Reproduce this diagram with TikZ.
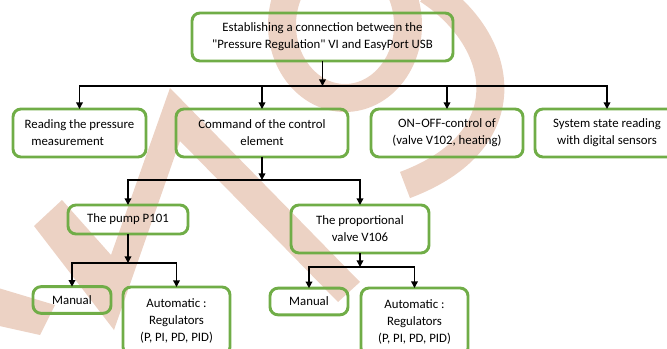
\documentclass[tikz,border=0pt]{standalone}
\usepackage{fontspec}
\setmainfont{Carlito}
\usetikzlibrary{arrows.meta,positioning}
\definecolor{boxgreen}{RGB}{112,173,71}
\definecolor{stampred}{RGB}{236,210,196}
\tikzset{
  block/.style={
    rectangle,
    rounded corners=6pt,
    draw=boxgreen,
    line width=2.2pt,
    outer sep=0pt,
    align=center,
    inner sep=2pt,
    minimum height=36pt,
    font=\fontsize{9.6pt}{12.75pt}\selectfont
  },
  smallblock/.style={
    block,
    minimum height=20pt
  },
  arrow/.style={
    -{Triangle[length=5pt,width=5pt]},
    line width=1.1pt,
    draw=black
  },
  stamp/.style={
    fill=stampred,
    draw=none
  },
  stampline/.style={
    draw=stampred,
    line width=21pt,
    line cap=butt
  }
}

\begin{document}
\begin{tikzpicture}[x=0.75pt, y=-0.75pt]
  \useasboundingbox (0,0) rectangle (667,349);
  \clip (0,0) rectangle (667,349);

  \fill[stamp] (62,200) -- (111,255) -- (170,88) -- (360,282) -- (338,302)
    -- (180,141) -- (114,330) -- (34,226) -- cycle;
  \fill[stamp] (-5,287) -- (55,305) -- (40,335) -- (-5,325) -- cycle;
  \draw[stampline] (345,25) ellipse [x radius=63, y radius=73];
  \draw[stampline] (428,-10) .. controls (505,40) and (525,140) .. (405,185);

  \node[block, minimum width=195.75pt] (link) at (322.5,37) {Establishing a connection between the\\\textquotedbl Pressure Regulation\textquotedbl{} VI and EasyPort USB};
  \node[block, minimum width=99.75pt, align=left] (reading) at (79.5,133) {Reading the pressure\\\hspace*{5pt}measurement};
  \node[block, minimum width=129pt, right=22.5pt of reading] (command) {Command of the control\\element};
  \node[block, minimum width=114pt, right=17.25pt of command] (onoff) {ON--OFF-control of\\(valve V102, heating)};
  \node[block, minimum width=108pt, right=9pt of onoff] (sensors) {System state reading\\with digital sensors};

  \node[block, minimum width=90pt, minimum height=21.75pt] (pump) at (128,219.5) {The pump P101};
  \node[block, minimum width=103.5pt] (valve) at (360,229) {The proportional\\valve V106};

  \node[smallblock, minimum width=58.5pt] (manualp) at (72,300) {Manual};
  \node[block, minimum width=80.25pt, minimum height=51pt] (autop) at (176.5,321) {Automatic :\\Regulators\\(P, PI, PD, PID)};
  \node[smallblock, minimum width=58.5pt] (manualv) at (309,301.5) {Manual};
  \node[block, minimum width=80.25pt, minimum height=51pt] (autov) at (414.5,322) {Automatic :\\Regulators\\(P, PI, PD, PID)};

  \coordinate (bus) at (322.5,86);
  \coordinate (cmdbus) at (262,180);
  \coordinate (pumpbus) at (128,263);
  \coordinate (valvebus) at (360,267);

  \draw[arrow] (link) -- (bus);
  \draw[arrow] (bus) -| (reading);
  \draw[arrow] (bus) -| (command);
  \draw[arrow] (bus) -| (onoff);
  \draw[arrow] (bus) -| (sensors);
  \draw[arrow] (command) -- (cmdbus);
  \draw[arrow] (cmdbus) -| (pump);
  \draw[arrow] (cmdbus) -| (valve);
  \draw[arrow] (pump) -- (pumpbus);
  \draw[arrow] (pumpbus) -| (manualp);
  \draw[arrow] (pumpbus) -| (autop);
  \draw[arrow] (valve) -- (valvebus);
  \draw[arrow] (valvebus) -| (manualv);
  \draw[arrow] (valvebus) -| (autov);
\end{tikzpicture}
\end{document}
